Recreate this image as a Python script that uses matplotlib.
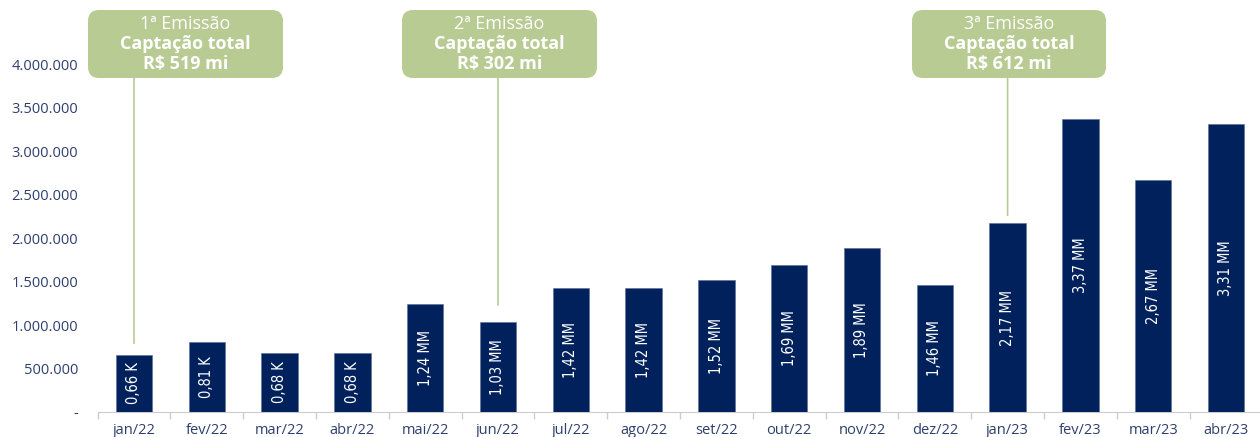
import matplotlib
matplotlib.use("Agg")
import matplotlib.pyplot as plt
from matplotlib.patches import FancyBboxPatch
from matplotlib.transforms import IdentityTransform

months = ["jan/22", "fev/22", "mar/22", "abr/22", "mai/22", "jun/22", "jul/22", "ago/22",
          "set/22", "out/22", "nov/22", "dez/22", "jan/23", "fev/23", "mar/23", "abr/23"]
values = [660000, 810000, 680000, 680000, 1240000, 1030000, 1420000, 1420000,
          1520000, 1690000, 1890000, 1460000, 2170000, 3370000, 2670000, 3310000]
bar_labels = ["0,66 K", "0,81 K", "0,68 K", "0,68 K", "1,24 MM", "1,03 MM", "1,42 MM", "1,42 MM",
              "1,52 MM", "1,69 MM", "1,89 MM", "1,46 MM", "2,17 MM", "3,37 MM", "2,67 MM", "3,31 MM"]
yticks = [0, 500000, 1000000, 1500000, 2000000, 2500000, 3000000, 3500000, 4000000]
ytick_labels = ["-", "500.000", "1.000.000", "1.500.000", "2.000.000", "2.500.000",
                "3.000.000", "3.500.000", "4.000.000"]

emissions_idx = [0, 5, 12]
emissions_title = ["1ª Emissão", "2ª Emissão", "3ª Emissão"]
emissions_total = ["R$ 519 mi", "R$ 302 mi", "R$ 612 mi"]
line_end = [790000, 1230000, 2260000]

W, H = 1260, 437
fig = plt.figure(figsize=(W / 100, H / 100), dpi=100)
ax = fig.add_axes([97.6 / W, 25 / H, 1164.8 / W, 412 / H])

navy = "#00215B"
green = "#B8CB93"
label_col = "#2E3F6E"
main_font = ["Open Sans", "DejaVu Sans"]

x = list(range(len(months)))
ax.bar(x, values, width=0.5, color=navy, edgecolor="#5A6C98", linewidth=0.4, zorder=3)
for xi, v, lab in zip(x, values, bar_labels):
    ax.text(xi, v / 2, lab, rotation=90, ha="center", va="center", color="white",
            fontsize=10.5, family=["DejaVu Sans"], fontstretch="condensed", zorder=4)

ax.set_xlim(-0.5, len(months) - 0.5)
ax.set_ylim(0, 4736000)
ax.set_yticks(yticks)
ax.set_yticklabels(ytick_labels, family=main_font, fontsize=10.5, color=label_col)
ax.tick_params(axis="y", length=0, pad=14)
ax.set_xticks(x)
ax.set_xticklabels(months, family=main_font, fontsize=10.5, color=label_col)
ax.tick_params(axis="x", which="major", length=0, pad=8)
ax.set_xticks([i + 0.5 for i in range(-1, len(months))], minor=True)
ax.tick_params(axis="x", which="minor", length=5, color="#CCCCCC", width=1)
for s in ["top", "right", "left"]:
    ax.spines[s].set_visible(False)
ax.spines["bottom"].set_color("#CCCCCC")

# annotation boxes (pixel positions from top-left)
box_px = [(88, 10, 195, 68), (402, 10, 195, 68), (912, 10, 194, 68)]
for (bx, by, bw, bh), idx, t1, t3, le in zip(box_px, emissions_idx, emissions_title,
                                            emissions_total, line_end):
    patch = FancyBboxPatch((bx, H - by - bh), bw, bh, boxstyle="round,pad=0,rounding_size=11",
                           transform=IdentityTransform(), facecolor=green, edgecolor="none",
                           zorder=5)
    fig.patches.append(patch)
    cx = (bx + bw / 2) / W
    fig.text(cx, 1 - (by + 14) / H, t1, ha="center", va="center", color="white",
             fontsize=13, family=main_font, zorder=6)
    fig.text(cx, 1 - (by + 34) / H, "Captação total", ha="center", va="center", color="white",
             fontsize=13, fontweight="bold", family=main_font, zorder=6)
    fig.text(cx, 1 - (by + 54) / H, t3, ha="center", va="center", color="white",
             fontsize=13, fontweight="bold", family=main_font, zorder=6)
    ax.annotate("", xy=(idx, le), xytext=(idx, 1 - (by + bh) / H),
                textcoords=("data", "figure fraction"),
                arrowprops=dict(arrowstyle="-", color=green, lw=1.2, shrinkA=0, shrinkB=0),
                zorder=2)

fig.savefig("out.png", dpi=100)
